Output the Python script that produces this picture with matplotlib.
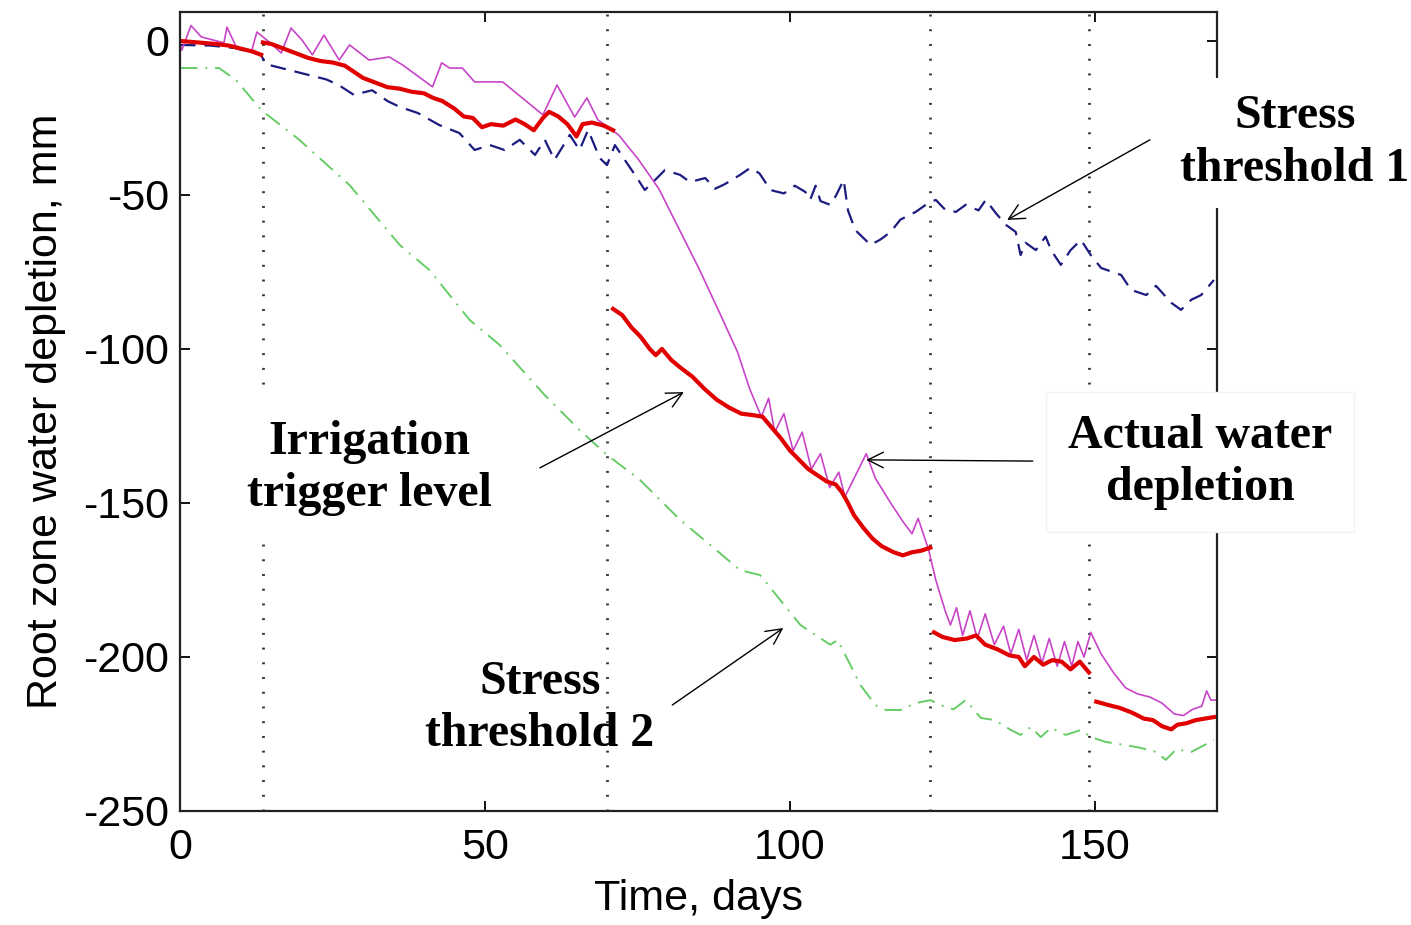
import numpy as np
import matplotlib
matplotlib.use('Agg')
import matplotlib.pyplot as plt

# irrigation events (days)
irrig_days = [13.6, 70.0, 123.0, 149.0]

# actual water depletion (magenta)
act_day = [0, 0.3, 1.8, 3.5, 7.2, 7.7, 9.2, 11.7, 12.6, 14.6, 16.6, 18.2, 20.0,
           21.7, 23.6, 26.1, 27.8, 31.0, 34.3, 36.5, 41.4, 42.9, 44.2, 46.3,
           48.3, 52.9, 59.5, 61.8, 64.7, 66.7, 68.5, 71.9, 75.2, 78.5, 81.8,
           85.1, 88.4, 91.4, 93.4, 95.3, 96.5, 97.5, 99.0, 100.5, 102.0, 103.5,
           105.0, 106.5, 108.0, 109.0, 112.5, 114.0, 116.5, 118.5, 120.0, 121.0,
           122.7, 123.9, 125.5, 126.3, 127.3, 128.3, 129.5, 130.7, 132.0, 133.5,
           135.0, 136.2, 137.5, 138.8, 140.0, 141.3, 142.5, 143.8, 145.0, 146.2,
           147.2, 148.2, 149.3, 151.0, 153.0, 155.0, 157.0, 159.0, 161.0, 163.0,
           164.5, 166.0, 167.5, 168.3, 169.0, 170.0]
act_val = [-1, -3, 5, 1.3, -0.6, 4.5, -1.9, -3.6, 2.9, -0.3, -3.9, 4.2, 0.3,
           -4.5, 1.9, -6.2, -1.3, -6.2, -5.2, -7.8, -14.9, -7.1, -8.8, -8.8,
           -13.3, -13.3, -24.0, -14.3, -24.7, -18.5, -25.6, -30.5, -38.6, -48,
           -61, -74, -88, -101, -113, -122, -116, -127, -121, -133, -127,
           -139, -134, -145, -140, -148, -134, -142, -150, -156, -160, -155,
           -165, -175, -185.4, -189.6, -184, -193, -185, -194, -186, -196,
           -190, -199, -191, -201, -193, -202, -194, -203, -195, -203,
           -195, -200, -192, -199, -205, -210, -212, -213, -215, -218.5,
           -219, -217, -216, -211, -214, -214]

# irrigation trigger level (red, broken at each irrigation)
trig_day = [0, 3, 6, 8, 10, 12, 13.3, np.nan,
            13.6, 15, 17, 19, 21, 23, 25, 27, 28.5, 30, 32, 34, 36, 38, 40, 41.5,
            43, 45, 46.5, 48, 49.5, 51, 53, 55, 56.5, 58, 59.5, 60.5, 62, 63.5,
            65, 66, 67.5, 69.5, 71, np.nan,
            71, 72.5, 74, 75.5, 77, 78, 79, 80.5, 82, 84, 86, 88, 90, 92, 94,
            95.5, 97, 98.5, 100, 101.5, 103, 104.5, 106, 107.5, 108.5, 109.5,
            110.5, 112, 113.5, 115, 117, 118.5, 120, 121.5, 123, np.nan,
            123.6, 125, 127, 129, 130.5, 132, 134, 136, 137.5, 138.5, 140, 141.5,
            143, 144.5, 146, 147.5, 149, np.nan,
            150.2, 152, 154, 156, 158, 159.5, 161, 162.5, 163.5, 165, 166.5, 168,
            169.5]
trig_val = [0, -0.5, -1, -1.5, -2.5, -3.5, -4.5, np.nan,
            -0.5, -1, -2.5, -4, -5.5, -6.5, -7, -8, -10, -12, -13.5, -15, -15.5,
            -16.5, -17, -18.5, -19.5, -22, -24.5, -25, -28, -27, -27.5, -25.5,
            -27, -29, -25, -23, -24.5, -27, -31, -27, -26.5, -27.5, -29, np.nan,
            -87, -89, -93, -96, -100, -102, -100, -103.5, -106, -109, -113,
            -116.5, -119, -121, -121.5, -122, -125.5, -129, -133, -136, -139,
            -141, -143, -144, -146.5, -150, -154, -158, -161.5, -164, -166, -167,
            -166, -165.5, -164.5, np.nan,
            -192, -193.5, -194.5, -194, -193, -196, -197.5, -199.5, -200, -203,
            -200, -202.5, -201, -201.5, -204, -201.5, -205, np.nan,
            -214.5, -215.5, -216.5, -218, -220, -220.5, -222.5, -223.5, -222,
            -221.5, -220.5, -220, -219.5]

# stress threshold 1 (navy dashed)
st1_day = [0, 5, 9, 13.3, 14, 17, 21, 24, 26, 28.5, 31.5, 34, 36, 39, 42.5,
           45.8, 48.3, 50.8, 53.2, 55.7, 58.2, 59.8, 61.4, 63.9, 65.5, 66.9,
           68.8, 70, 71.3, 72.9, 74.6, 76.2, 77.9, 79.5, 82, 83.6, 86.1, 87.7,
           89.3, 91.8, 93.5, 95, 96.8, 99, 100.8, 102.5, 103.3, 104.2, 105,
           106.6, 107.6, 108.8, 109.5, 110.7, 113.2, 114.8, 116.5, 118.1, 120.6,
           122.7, 123.9, 125.5, 127.2, 128.8, 130.9, 132.1, 133.7, 135.4, 137,
           137.8, 138.6, 140.3, 141.9, 142.8, 144.4, 146, 147.7, 149.3, 151,
           154.3, 155.9, 158.4, 160, 162.5, 164.1, 165.8, 167.4, 169.5]
st1_val = [-1.3, -1.5, -2.3, -4.5, -7.5, -9, -11, -12.5, -14.3, -17.5, -16,
           -19.5, -21.4, -23.4, -27.3, -29.9, -35.4, -33.8, -35.4, -32.1, -37,
           -32.1, -38.6, -30.5, -35.4, -28.9, -38, -40.3, -33.8, -38.6, -43.5,
           -48.4, -45.1, -41.9, -43.5, -45.8, -44.5, -48, -46.5, -43.5, -41.2,
           -43, -48.4, -49.5, -47, -49, -51.6, -47, -52, -53.2, -50, -45.1, -55,
           -61.4, -66.2, -64.5, -62, -58, -55.5, -52.6, -51.6, -54.9, -55.5,
           -53.2, -55, -51.6, -55.8, -59.7, -62, -69.5, -65.5, -67.9, -63.5,
           -67.9, -72.7, -67.9, -64.6, -69.5, -73.7, -76, -80.8, -82.5, -79.5,
           -85, -87.3, -84, -82.5, -77.6]

# stress threshold 2 (green dash-dot)
st2_day = [0, 6.4, 9.2, 13.3, 19.5, 27.8, 36, 40.9, 47.5, 52.4, 59.8, 65.5,
           70, 75.4, 82, 86.9, 91.8, 95.1, 98.4, 101.7, 104.2, 106.6, 107.8,
           109.9, 111.5, 114, 115.7, 118.1, 120.6, 123, 124.7, 126.8, 128.8,
           131.3, 133.6, 136.2, 137.8, 139.5, 141.1, 142.8, 145.2, 147.7, 149.3,
           151.8, 155, 157.5, 160, 161.6, 163.3, 165.8, 169.5]
st2_val = [-8.8, -8.8, -12.7, -22.4, -32, -46.8, -66.2, -74.4, -90.6, -98.7,
           -115, -126.3, -134.4, -142.5, -155.5, -163.6, -171.8, -173.4, -181.5,
           -189.6, -192.9, -196, -194.5, -202.6, -209, -215.6, -217.2, -217.2,
           -215, -214, -215.6, -217, -214, -219.8, -220.5, -223.7, -225.3,
           -222.7, -226, -223, -225.3, -223.7, -226, -227.6, -228.6, -229.5,
           -230.8, -233.4, -230, -230.8, -227]

plt.rcParams['font.family'] = 'Liberation Sans'
plt.rcParams['axes.unicode_minus'] = False
fig = plt.figure(figsize=(14.11, 9.25), dpi=100)
ax = fig.add_axes([180 / 1411, 1 - 811 / 925, 1037 / 1411, 799 / 925])

for d in irrig_days:
    ax.axvline(d, color='#333333', lw=2.0, ls=(0, (0.7, 4.6)), zorder=1)

ax.plot(st2_day, st2_val, color='#66cc66', lw=1.4, ls=(0, (9, 4, 1, 4)))
ax.plot(st1_day, st1_val, color='#1c1c80', lw=1.6, ls=(0, (7, 4)))
ax.plot(act_day, act_val, color='#c844c8', lw=1.2)
ax.plot(trig_day, trig_val, color='#e00000', lw=3.0)

ax.set_xlim(0, 170)
ax.set_ylim(-250, 9.4)
ax.set_xticks([0, 50, 100, 150])
ax.set_yticks([-250, -200, -150, -100, -50, 0])
ax.tick_params(direction='in', length=7, width=1.3, top=True, right=True,
               labelsize=31)
ax.tick_params(axis='x', pad=12)
ax.tick_params(axis='y', pad=8)
for s in ax.spines.values():
    s.set_linewidth(1.6)
    s.set_color('#222222')

ax.set_xlabel('Time, days', fontsize=31, labelpad=8)
ax.set_ylabel('Root zone water depletion, mm', fontsize=31, labelpad=12)

tfont = dict(family='Liberation Serif', weight='bold', size=34.5,
             ha='center', va='center', linespacing=1.25, zorder=5)
ax.text(182.8, -33, 'Stress\nthreshold 1',
        bbox=dict(fc='white', ec='none', pad=12), **tfont)
ax.text(31.1, -138.6, 'Irrigation\ntrigger level',
        bbox=dict(fc='white', ec='none', pad=20), **tfont)
ax.text(167.2, -136.7, 'Actual water\ndepletion',
        bbox=dict(fc='white', ec='#f3f3f3', pad=16), **tfont)
ax.text(59, -216.6, 'Stress\nthreshold 2', **tfont)

arrows = [((159, -32.1), (135.6, -58.1)),
          ((59, -138.6), (82.6, -114)),
          ((139.8, -136.4), (112.5, -136)),
          ((80.7, -215.6), (98.9, -190.6))]
for tail, head in arrows:
    ax.annotate('', xy=head, xytext=tail,
                arrowprops=dict(arrowstyle='->', color='black', lw=1.0,
                                mutation_scale=28, shrinkA=0, shrinkB=0),
                zorder=6)

fig.savefig('out.png', dpi=100, facecolor='white')
